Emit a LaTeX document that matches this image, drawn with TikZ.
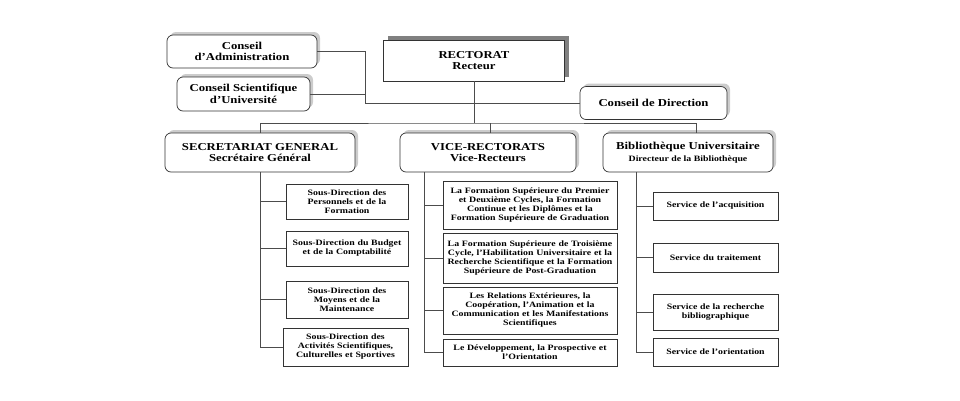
\documentclass[tikz,border=0pt]{standalone}
\usepackage{fontspec}
\newfontfamily\orgfont{Liberation Serif}[Ligatures=TeX,FakeStretch=1.2]
\usetikzlibrary{shadows}

\begin{document}
\begin{tikzpicture}[x=1pt,y=-1pt,
  box/.style={draw=black!80, line width=0.7pt, fill=white, align=center, inner sep=2pt,
    font=\orgfont\bfseries\fontsize{10.6}{11.6}\selectfont},
  rbox/.style={box, rounded corners=6pt,
    drop shadow={shadow xshift=3pt, shadow yshift=3pt, fill=black!20, opacity=1}},
  topbox/.style={box, drop shadow={shadow xshift=4pt, shadow yshift=4pt, fill=black!50, opacity=1}},
  subbox/.style={box, line width=0.6pt, font=\orgfont\bfseries\fontsize{8.2}{9}\selectfont},
  link/.style={draw=black!70, line width=0.8pt}]
  \useasboundingbox (0,0) rectangle (960,400);

  \node[rbox, minimum width=150pt, minimum height=33pt] (admin) at (242,51.5) {Conseil\\d'Administration};
  \node[rbox, minimum width=133pt, minimum height=34pt] (cs) at (243.5,94) {Conseil Scientifique\\d'Université};
  \node[topbox, minimum width=181pt, minimum height=41pt] (rect) at (474,60.5) {RECTORAT\\Recteur};
  \node[rbox, minimum width=147pt, minimum height=33pt] (cdir) at (653.5,103) {Conseil de Direction};

  \node[rbox, minimum width=190pt, minimum height=39pt] (sg) at (260,152.5) {SECRETARIAT GENERAL\\Secrétaire Général};
  \node[rbox, minimum width=176pt, minimum height=39pt] (vr) at (488,152.5) {VICE-RECTORATS\\Vice-Recteurs};
  \node[rbox, minimum width=170pt, minimum height=39pt] (bib) at (688,152.5)
    {Bibliothèque Universitaire\\{\fontsize{8.2}{9}\selectfont Directeur de la Bibliothèque}};

  \node[subbox, minimum width=122pt, minimum height=35pt, text width=114pt] (sg1) at (347,201.5) {Sous-Direction des\\Personnels et de la\\Formation};
  \node[subbox, minimum width=122pt, minimum height=35pt, text width=114pt] (sg2) at (347,248.5) {Sous-Direction du Budget\\et de la Comptabilité};
  \node[subbox, minimum width=122pt, minimum height=37pt, text width=114pt] (sg3) at (347,299.5) {Sous-Direction des\\Moyens et de la\\Maintenance};
  \node[subbox, minimum width=125pt, minimum height=38pt, text width=117pt] (sg4) at (345.5,347) {Sous-Direction des\\Activités Scientifiques,\\Culturelles et Sportives};

  \node[subbox, minimum width=174pt, minimum height=48pt, text width=166pt] (vr1) at (530,205) {La Formation Supérieure du Premier\\et Deuxième Cycles, la Formation\\Continue et les Diplômes et la\\Formation Supérieure de Graduation};
  \node[subbox, minimum width=174pt, minimum height=50pt, text width=166pt] (vr2) at (530,258) {La Formation Supérieure de Troisième\\Cycle, l'Habilitation Universitaire et la\\Recherche Scientifique et la Formation\\Supérieure de Post-Graduation};
  \node[subbox, minimum width=174pt, minimum height=47pt, text width=166pt] (vr3) at (530,310.5) {Les Relations Extérieures, la\\Coopération, l'Animation et la\\Communication et les Manifestations\\Scientifiques};
  \node[subbox, minimum width=174pt, minimum height=27pt, text width=166pt] (vr4) at (530,352.5) {Le Développement, la Prospective et\\l'Orientation};

  \node[subbox, minimum width=125pt, minimum height=28pt, text width=117pt] (bib1) at (715.5,206) {Service de l'acquisition};
  \node[subbox, minimum width=125pt, minimum height=29pt, text width=117pt] (bib2) at (715.5,257.5) {Service du traitement};
  \node[subbox, minimum width=125pt, minimum height=36pt, text width=117pt] (bib3) at (715.5,312) {Service de la recherche\\bibliographique};
  \node[subbox, minimum width=125pt, minimum height=28pt, text width=117pt] (bib4) at (715.5,352) {Service de l'orientation};

  \coordinate (cj) at (365,103);
  \coordinate (bar) at (474,123);
  \draw[link] (admin.east) -| (cj) -- (cdir.west);
  \draw[link] (cs.east) -- (cs.east -| cj);
  \draw[link] (rect.south) -- (bar);
  \draw[link] (sg.north) |- (bar) -| ([xshift=8pt]bib.north);
  \draw[link] ([xshift=2pt]vr.north) -- ([xshift=2pt]vr.north |- bar);

  \draw[link] (sg.south) |- (sg4.west);
  \foreach \s in {sg1,sg2,sg3} \draw[link] (sg.south |- \s.west) -- (\s.west);
  \coordinate (vrt) at ([xshift=25pt]vr.south west);
  \draw[link] (vrt) |- (vr4.west);
  \foreach \s in {vr1,vr2,vr3} \draw[link] (vrt |- \s.west) -- (\s.west);
  \coordinate (bibt) at ([xshift=34pt]bib.south west);
  \draw[link] (bibt) |- (bib4.west);
  \foreach \s in {bib1,bib2,bib3} \draw[link] (bibt |- \s.west) -- (\s.west);
\end{tikzpicture}
\end{document}
